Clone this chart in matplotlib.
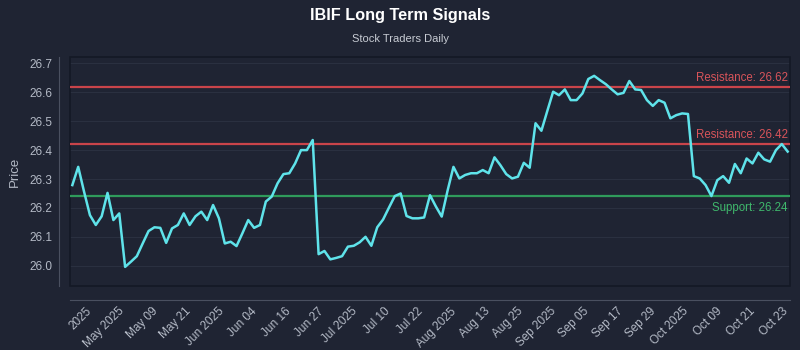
import numpy as np
import matplotlib.pyplot as plt
from matplotlib.patches import Rectangle

plt.rcParams['font.family'] = ['Liberation Sans', 'DejaVu Sans']

# daily closing prices
prices = [26.279, 26.342, 26.256, 26.175, 26.141, 26.171, 26.252, 26.158, 26.181, 25.996,
          26.014, 26.033, 26.077, 26.120, 26.133, 26.131, 26.079, 26.129, 26.141, 26.181,
          26.141, 26.171, 26.187, 26.158, 26.210, 26.164, 26.077, 26.083, 26.068, 26.112,
          26.158, 26.131, 26.141, 26.222, 26.239, 26.285, 26.317, 26.320, 26.354, 26.400,
          26.400, 26.435, 26.040, 26.051, 26.022, 26.027, 26.033, 26.066, 26.069, 26.081,
          26.100, 26.069, 26.133, 26.160, 26.201, 26.241, 26.250, 26.172, 26.164, 26.164,
          26.167, 26.244, 26.205, 26.170, 26.260, 26.342, 26.302, 26.314, 26.320, 26.320,
          26.331, 26.320, 26.375, 26.348, 26.317, 26.302, 26.308, 26.356, 26.339, 26.493,
          26.467, 26.535, 26.602, 26.590, 26.610, 26.573, 26.573, 26.596, 26.646, 26.657,
          26.642, 26.628, 26.610, 26.593, 26.598, 26.639, 26.610, 26.608, 26.573, 26.553,
          26.573, 26.564, 26.510, 26.521, 26.527, 26.525, 26.310, 26.302, 26.279, 26.241,
          26.296, 26.310, 26.287, 26.352, 26.320, 26.371, 26.354, 26.391, 26.368, 26.360,
          26.400, 26.421, 26.395]

tick_labels = ['2025', 'May 2025', 'May 09', 'May 21', 'Jun 2025', 'Jun 04', 'Jun 16',
               'Jun 27', 'Jul 2025', 'Jul 10', 'Jul 22', 'Aug 2025', 'Aug 13', 'Aug 25',
               'Sep 2025', 'Sep 05', 'Sep 17', 'Sep 29', 'Oct 2025', 'Oct 09', 'Oct 21',
               'Oct 23']

resistance = [26.62, 26.42]
support = [26.24]

bg = '#1f2433'
txt = '#b4bac6'

fig = plt.figure(figsize=(8, 3.5), dpi=100, facecolor=bg)
ax = fig.add_axes([0.0875, 0.183, 0.9, 0.654])
ax.set_facecolor(bg)

# spines first: set_position resets the ticks
for side in ['top', 'right']:
    ax.spines[side].set_visible(False)
ax.spines['left'].set_position(('outward', 8))
ax.spines['bottom'].set_position(('outward', 10))
ax.spines['left'].set_color('#4a5060')
ax.spines['bottom'].set_color('#4a5060')
ax.add_patch(Rectangle((0, 0), 1, 1, transform=ax.transAxes, fill=False,
                       edgecolor='#141925', lw=1.2, clip_on=False, zorder=1))

x = np.arange(len(prices))

ax.yaxis.grid(True, color='#2a3040', lw=0.8)
ax.set_axisbelow(True)

for r in resistance:
    ax.axhline(r, color='#c9444a', lw=1.6, zorder=2)
    ax.text(0.997, r + 0.01, 'Resistance: %.2f' % r, transform=ax.get_yaxis_transform(),
            ha='right', va='bottom', color='#d8545a', fontsize=8.3)
for s in support:
    ax.axhline(s, color='#2f9b5b', lw=1.6, zorder=2)
    ax.text(0.997, s - 0.018, 'Support: %.2f' % s, transform=ax.get_yaxis_transform(),
            ha='right', va='top', color='#3fb86c', fontsize=8.3)

ax.plot(x, prices, color='#5fe3ea', lw=1.8, zorder=3)

ax.set_xlim(-0.4, len(prices) - 0.6)
ax.set_ylim(25.93, 26.722)
yt = np.arange(26.0, 26.75, 0.1)
ax.set_yticks(yt)
ax.set_yticklabels(['%.1f' % v for v in yt])

ax.set_xticks(np.linspace(2.2, 121.1, len(tick_labels)))
ax.set_xticklabels(tick_labels, rotation=45, ha='right', rotation_mode='anchor')

ax.tick_params(axis='both', length=0, colors=txt, labelsize=8.5)
ax.tick_params(axis='y', pad=5)
ax.tick_params(axis='x', pad=4)

ax.set_ylabel('Price', color=txt, fontsize=9.5, labelpad=6)

fig.text(0.5, 0.955, 'IBIF Long Term Signals', ha='center', va='center',
         color='white', fontsize=11.7, fontweight='bold')
fig.text(0.5, 0.89, 'Stock Traders Daily', ha='center', va='center',
         color='#c8ccd4', fontsize=8)

fig.savefig('out.png', dpi=100, facecolor=bg)
